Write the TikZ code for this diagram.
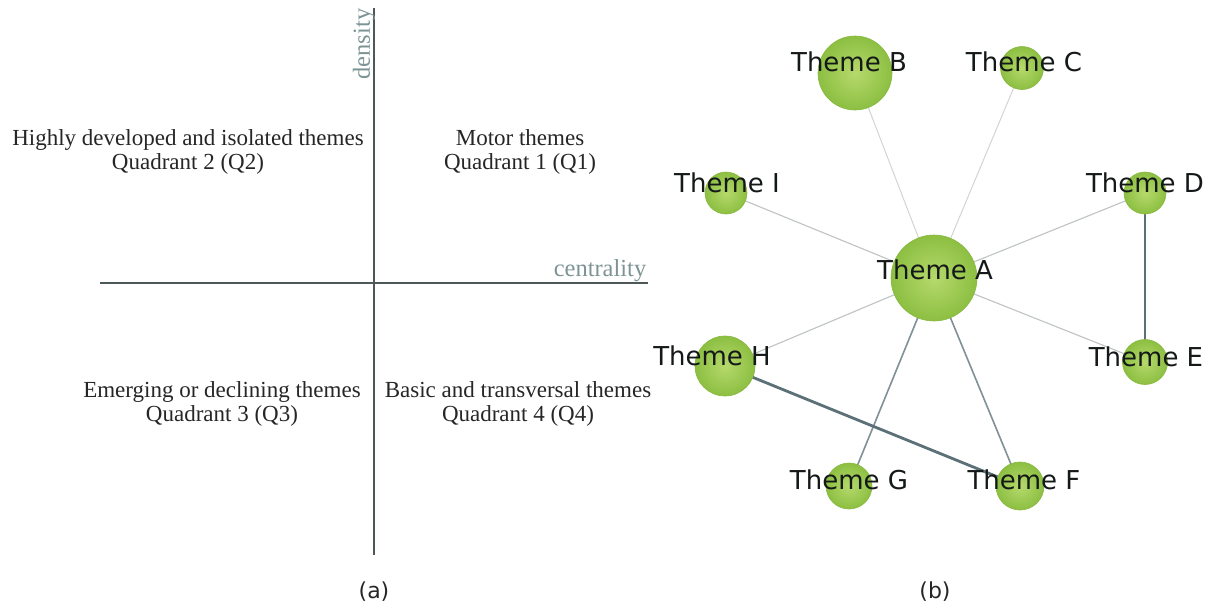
\documentclass[tikz,border=0pt]{standalone}
\usepackage{fontspec}
\setmainfont{Liberation Serif}
\newfontfamily\vfont{DejaVu Sans}
\definecolor{gin}{HTML}{B6D96C}
\definecolor{gout}{HTML}{8CBF42}
\definecolor{gdraw}{HTML}{88B840}
\definecolor{txt}{HTML}{141818}
\definecolor{qtxt}{HTML}{262626}
\definecolor{axc}{HTML}{7E9494}
\definecolor{axline}{HTML}{4E5858}
\definecolor{eA}{HTML}{D2D4D4}
\definecolor{eB}{HTML}{BFC3C3}
\definecolor{eC}{HTML}{7F9096}
\definecolor{eD}{HTML}{5C7078}
\pgfdeclarelayer{bg}
\pgfsetlayers{bg,main}
\begin{document}
\begin{tikzpicture}[x=1pt,y=-1pt,
  theme/.style={circle, inner sep=0pt, minimum size=#1, inner color=gin, outer color=gout, draw=gdraw, line width=0.6pt},
  lbl/.style={font=\vfont\fontsize{26}{30}\selectfont, text=txt, inner sep=0pt},
  quad/.style={font=\fontsize{23}{24.5}\selectfont, align=center, text=qtxt, inner sep=0pt},
  axlab/.style={font=\fontsize{24.5}{24}\selectfont, text=axc, inner sep=0pt},
  captext/.style={font=\vfont\fontsize{22}{26}\selectfont, text=qtxt, inner sep=0pt},
  axis/.style={draw=axline, line width=1.3pt},
  ethin/.style={draw=eA, line width=1pt},
  elight/.style={draw=eB, line width=1.1pt},
  emid/.style={draw=eC, line width=1.6pt},
  ethick/.style={draw=eD, line width=2.8pt}
]
\useasboundingbox (0,0) rectangle (1212,614);

% ---------- panel (a) ----------
\coordinate (vtop) at (374,8);
\coordinate (vbot) at (374,555);
\coordinate (hl) at (100,283);
\coordinate (hr) at (648,283);
\draw[axis] (vbot) -- (vtop);
\draw[axis] (hl) -- (hr);
\node[axlab, rotate=90] (dens) at (364,44) {density};
\node[axlab] (cent) at (600,271) {centrality};

\node[quad] (q2) at (188,152) {Highly developed and isolated themes\\Quadrant 2 (Q2)};
\node[quad] (q1) at (520,152) {Motor themes\\Quadrant 1 (Q1)};
\node[quad] (q3) at (222,404) {Emerging or declining themes\\Quadrant 3 (Q3)};
\node[quad] (q4) at (518,404) {Basic and transversal themes\\Quadrant 4 (Q4)};
\node[captext] (capa) at (374,592) {(a)};

% ---------- panel (b) ----------
\node[theme=86pt] (A) at (934,278) {};
\node[theme=74pt] (B) at (855,73) {};
\node[theme=43pt] (C) at (1022,68) {};
\node[theme=42pt] (D) at (1145,193) {};
\node[theme=45pt] (E) at (1145,362) {};
\node[theme=48pt] (F) at (1020,486) {};
\node[theme=46pt] (G) at (849,486) {};
\node[theme=60pt] (H) at (725,366) {};
\node[theme=42pt] (I) at (726,193) {};

\begin{pgfonlayer}{bg}
\draw[ethin] (A.center) -- (B.center);
\draw[ethin] (A.center) -- (C.center);
\draw[elight] (A.center) -- (I.center);
\draw[elight] (A.center) -- (D.center);
\draw[elight] (A.center) -- (E.center);
\draw[elight] (A.center) -- (H.center);
\draw[emid] (A.center) -- (G.center);
\draw[emid] (A.center) -- (F.center);
\draw[ethick] (D.center) -- (E.center);
\draw[ethick] (H.center) -- (F.center);
\end{pgfonlayer}

\node[lbl] (lA) at (935,270) {Theme A};
\node[lbl] (lB) at (849,62) {Theme B};
\node[lbl] (lC) at (1024,62) {Theme C};
\node[lbl] (lD) at (1145,183) {Theme D};
\node[lbl] (lE) at (1146,357) {Theme E};
\node[lbl] (lF) at (1024,480) {Theme F};
\node[lbl] (lG) at (849,480) {Theme G};
\node[lbl] (lH) at (712,356) {Theme H};
\node[lbl] (lI) at (727,183) {Theme I};
\node[captext] (capb) at (935,592) {(b)};
\end{tikzpicture}
\end{document}
